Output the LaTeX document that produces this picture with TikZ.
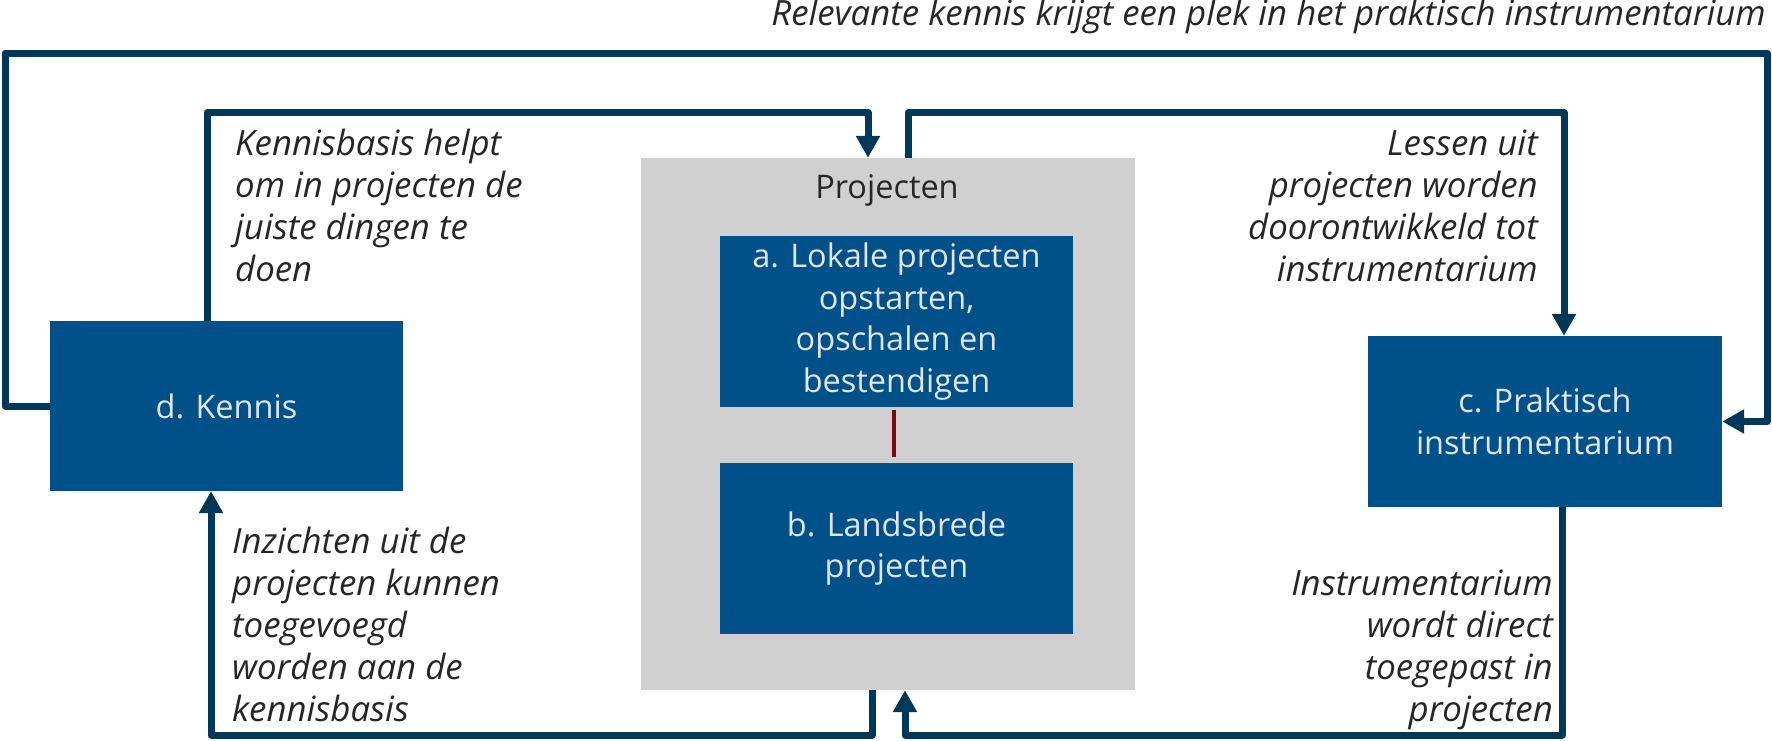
\documentclass[tikz,border=0pt]{standalone}
\usepackage{fontspec}
\setmainfont{Open Sans}
\usetikzlibrary{arrows.meta}
\definecolor{lineblue}{HTML}{00385A}
\definecolor{boxblue}{HTML}{00518A}
\definecolor{graybg}{HTML}{D0D0D0}
\definecolor{boxtext}{HTML}{E1E6EC}
\definecolor{darktext}{HTML}{262626}
\definecolor{linkred}{HTML}{7B0A0A}
\tikzset{
  bluebox/.style={fill=boxblue, draw=none, text=boxtext, align=center, inner sep=0pt,
    font=\fontsize{32.5}{41.5}\selectfont},
  graybox/.style={fill=graybg, draw=none, inner sep=0pt},
  conn/.style={draw=lineblue, line width=7pt, line join=round},
  arr/.style={-{Triangle[length=22pt,width=23pt]}},
  note/.style={text=darktext, inner sep=0pt, font=\fontsize{34.8}{42}\selectfont\itshape},
}
\begin{document}
\begin{tikzpicture}[x=1pt,y=-1pt]
\useasboundingbox (0,0) rectangle (1772,740);
% boxes
\node[graybox, minimum width=494pt, minimum height=532pt] (P) at (888,424) {};
\node[text=darktext, inner sep=0pt, font=\fontsize{32.5}{43}\selectfont] (Plab) at (887,190) {Projecten};
\node[bluebox, minimum width=353pt, minimum height=171pt] (a) at (896.5,321.5)
  {a. Lokale projecten\\opstarten,\\opschalen en\\bestendigen};
\node[bluebox, minimum width=353pt, minimum height=171pt] (b) at (896.5,548.5)
  {b. Landsbrede\\projecten};
\node[bluebox, minimum width=353pt, minimum height=170pt] (d) at (226.5,406) {d. Kennis};
\node[bluebox, minimum width=354pt, minimum height=171pt] (c) at (1545,421.5)
  {c. Praktisch\\instrumentarium};
% link a-b
\draw[linkred, line width=3.5pt] ([yshift=-3pt]a.south -| 894,0) -- ([yshift=6pt]b.north -| 894,0);
% coordinates of routes
\coordinate (o1) at (5,53);
\coordinate (o2) at (1767,53);
\coordinate (i1) at (207,112.5);
\coordinate (i2) at (868,112.5);
\coordinate (i3) at (908,112.5);
\coordinate (i4) at (1564,112.5);
\coordinate (u1) at (1562,735);
\coordinate (u2) at (905,735);
\coordinate (u3) at (872,735);
\coordinate (u4) at (211,735);
% connectors
\draw[conn,arr] (d.west) -| (o1) -- (o2) |- (c.east);
\draw[conn,arr] (i1 |- d.north) -- (i1) -- (i2) -- (i2 |- P.north);
\draw[conn,arr] (i3 |- P.north) -- (i3) -- (i4) -- (i4 |- c.north);
\draw[conn,arr] (u1 |- c.south) -- (u1) -- (u2) -- (u2 |- P.south);
\draw[conn,arr] (u3 |- P.south) -- (u3) -- (u4) -- (u4 |- d.south);
% labels (base anchor = baseline of last line)
\node[note, anchor=base east] (t1) at (1766,25)
  {Relevante kennis krijgt een plek in het praktisch instrumentarium};
\node[note, anchor=base west, align=left] (t2) at (235,281)
  {Kennisbasis helpt\\om in projecten de\\juiste dingen te\\doen};
\node[note, anchor=base east, align=right] (t3) at (1538,281)
  {Lessen uit\\projecten worden\\doorontwikkeld tot\\instrumentarium};
\node[note, anchor=base west, align=left] (t4) at (232,721)
  {Inzichten uit de\\projecten kunnen\\toegevoegd\\worden aan de\\kennisbasis};
\node[note, anchor=base east, align=right] (t5) at (1553,721)
  {Instrumentarium\\wordt direct\\toegepast in\\projecten};
\end{tikzpicture}
\end{document}
